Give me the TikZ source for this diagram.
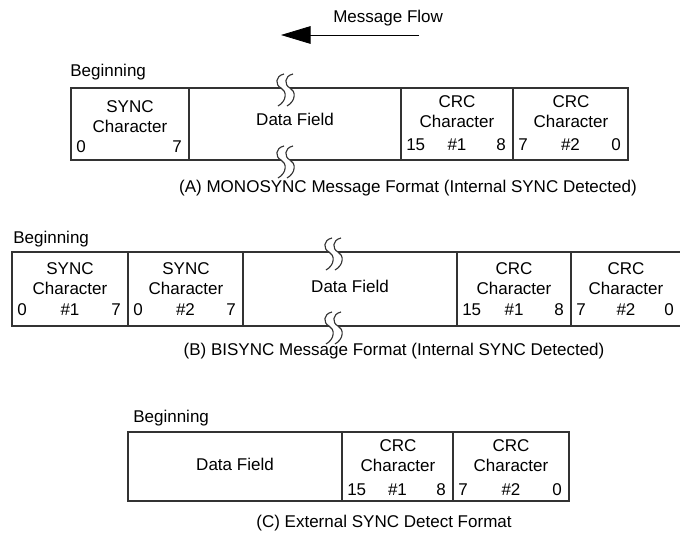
\documentclass[tikz,border=0pt]{standalone}
\usepackage{fontspec}
\setmainfont{Liberation Sans}
\usepackage{xcolor}
\definecolor{frameGray}{gray}{0.2}
\usetikzlibrary{arrows.meta}

% one character cell: prefix, centre x, title baseline, title
\newcommand{\celltext}[4]{%
  \node[lbl] (#1-t) at (#2,#3) {#4};
  \node[lbl] (#1-c) at (#2,#3+20) {Character};}
% bit row: prefix, left, right, baseline, low bit, number, high bit
\newcommand{\bitrow}[7]{%
  \node[lbl, anchor=base west] (#1-lo) at (#2+5,#4) {#5};
  \node[lbl] (#1-n) at ({(#2+#3)/2},#4) {#6};
  \node[lbl, anchor=base east] (#1-hi) at (#3-7,#4) {#7};}

\begin{document}
\begin{tikzpicture}[x=0.025cm, y=-0.025cm, font=\fontsize{12.1}{14}\selectfont,
  frame/.style={draw=frameGray, line width=0.75pt},
  lbl/.style={anchor=base, inner sep=0pt},
  brk/.pic={
    \fill[white] (3,-14) .. controls (-6,-12) and (-6,-3) .. (0,0)
      .. controls (6,3) and (6,13) .. (-3,18) -- (6,18)
      .. controls (15,13) and (15,3) .. (9,0)
      .. controls (3,-3) and (3,-12) .. (12,-14) -- cycle;
    \draw[frameGray, line width=0.8pt] (3,-14) .. controls (-6,-12) and (-6,-3) .. (0,0)
      .. controls (6,3) and (6,13) .. (-3,18);
    \draw[frameGray, line width=0.8pt] (12,-14) .. controls (3,-12) and (3,-3) .. (9,0)
      .. controls (15,3) and (15,13) .. (6,18);
  }]
  \clip (0,0) rectangle (680,540);

  % message flow arrow
  \node[lbl, anchor=base west] (flow) at (333,22) {Message Flow};
  \coordinate (flowtail) at (419,35);
  \coordinate (flowtip) at (281,35);
  \draw[line width=0.6pt, -{Triangle[length=21pt,width=12.5pt]}] (flowtail) -- (flowtip);

  % (A) monosync
  \node[lbl, anchor=base west] (begA) at (70,76) {Beginning};
  \draw[frame] (71,88) rectangle (628,160);
  \foreach \x in {189,401,513} \draw[frame] (\x,88) -- (\x,160);
  \celltext{a1}{130}{112}{SYNC}
  \bitrow{a1}{71}{189}{152}{0}{}{7}
  \node[lbl] (dataA) at (295,125) {Data Field};
  \celltext{a2}{457}{107}{CRC}
  \bitrow{a2}{401}{513}{150}{15}{\#1}{8}
  \celltext{a3}{571}{107}{CRC}
  \bitrow{a3}{513}{628}{150}{7}{\#2}{0}
  \node[lbl] (capA) at (408,192) {(A) MONOSYNC Message Format (Internal SYNC Detected)};
  \pic at (281,88) {brk};
  \pic at (281,160) {brk};

  % (B) bisync
  \node[lbl, anchor=base west] (begB) at (13,243) {Beginning};
  \draw[frame] (12,252) rectangle (684,326);
  \foreach \x in {128,243,457,571} \draw[frame] (\x,252) -- (\x,326);
  \celltext{b1}{70}{274}{SYNC}
  \bitrow{b1}{12}{128}{315}{0}{\#1}{7}
  \celltext{b2}{186}{274}{SYNC}
  \bitrow{b2}{128}{243}{315}{0}{\#2}{7}
  \node[lbl] (dataB) at (350,292) {Data Field};
  \celltext{b3}{514}{274}{CRC}
  \bitrow{b3}{457}{571}{315}{15}{\#1}{8}
  \celltext{b4}{626}{274}{CRC}
  \bitrow{b4}{571}{681}{315}{7}{\#2}{0}
  \node[lbl] (capB) at (394,355) {(B) BISYNC Message Format (Internal SYNC Detected)};
  \pic at (329,252) {brk};
  \pic at (329,326) {brk};

  % (C) external sync
  \node[lbl, anchor=base west] (begC) at (133,422) {Beginning};
  \draw[frame] (128,432) rectangle (569,501);
  \foreach \x in {342,453} \draw[frame] (\x,432) -- (\x,501);
  \node[lbl] (dataC) at (235,470) {Data Field};
  \celltext{c1}{398}{451}{CRC}
  \bitrow{c1}{342}{453}{495}{15}{\#1}{8}
  \celltext{c2}{511}{451}{CRC}
  \bitrow{c2}{453}{569}{495}{7}{\#2}{0}
  \node[lbl] (capC) at (384,527) {(C) External SYNC Detect Format};
\end{tikzpicture}
\end{document}
